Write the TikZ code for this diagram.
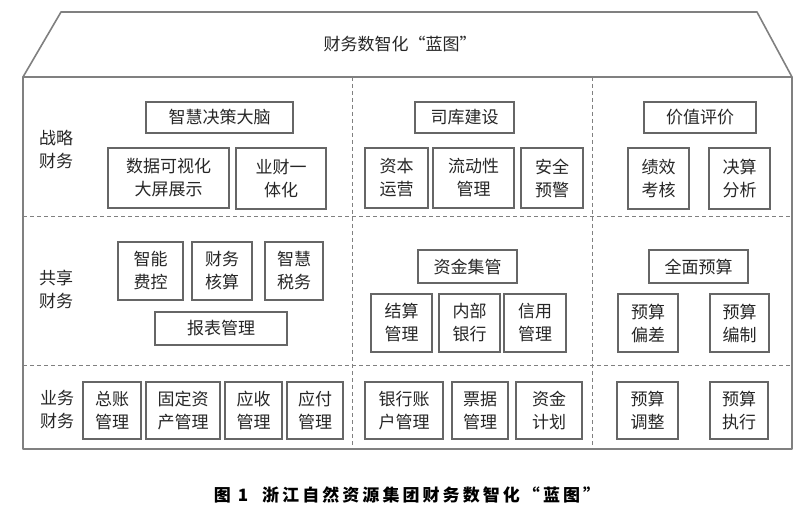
\documentclass[tikz,border=0pt]{standalone}
\usepackage{fontspec}
\setmainfont{Noto Sans CJK SC}
\newcommand\bx[6]{\node[box,minimum width={#4-#2},minimum height={#5-#3}] (#1) at ({(#2+#4)/2},{(#3+#5)/2}) {#6};}
\begin{document}
\begin{tikzpicture}[x=1pt,y=-1pt,
  box/.style={draw=black!60,line width=1.1pt,inner sep=0pt,align=center,text=black!85,font=\fontsize{17}{23}\selectfont},
  frame/.style={draw=black!50,line width=1.6pt,line join=round},
  divider/.style={draw=black!50,line width=1pt,dash pattern=on 4pt off 3pt},
  cat/.style={align=center,inner sep=0pt,text=black!85,font=\fontsize{17}{23}\selectfont}]
\useasboundingbox (0,0) rectangle (800,526);
\fill[white] (0,0) rectangle (800,526);
% roof and frame
\draw[frame] (23,77) -- (61,12) -- (757,12) -- (792,77);
\draw[frame] (23,77) rectangle (792,449);
\draw[divider] (352,77) -- (352,449);
\draw[divider] (592,77) -- (592,449);
\draw[divider] (23,217) -- (792,217);
\draw[divider] (23,365) -- (792,365);
\node[cat,font=\fontsize{17}{20}\selectfont] (title) at (400,44) {财务数智化“蓝图”};
% category labels
\node[cat] (c1) at (56,150) {战略\\财务};
\node[cat] (c2) at (56,289) {共享\\财务};
\node[cat] (c3) at (57,410) {业务\\财务};
% row 1
\bx{a1}{146}{102}{293}{133}{智慧决策大脑}
\bx{a2}{108}{148}{229}{208}{数据可视化\\大屏展示}
\bx{a3}{236}{148}{326}{209}{业财一\\体化}
\bx{b1}{415}{102}{514}{133}{司库建设}
\bx{b2}{365}{148}{428}{208}{资本\\运营}
\bx{b3}{433}{148}{514}{208}{流动性\\管理}
\bx{b4}{521}{148}{583}{208}{安全\\预警}
\bx{d1}{644}{102}{756}{133}{价值评价}
\bx{d2}{628}{148}{689}{209}{绩效\\考核}
\bx{d3}{709}{148}{770}{209}{决算\\分析}
% row 2
\bx{e1}{118}{242}{183}{300}{智能\\费控}
\bx{e2}{192}{242}{252}{300}{财务\\核算}
\bx{e3}{265}{242}{323}{300}{智慧\\税务}
\bx{e4}{155}{312}{287}{345}{报表管理}
\bx{f1}{418}{250}{517}{283}{资金集管}
\bx{f2}{371}{294}{432}{352}{结算\\管理}
\bx{f3}{439}{294}{500}{352}{内部\\银行}
\bx{f4}{504}{294}{566}{352}{信用\\管理}
\bx{g1}{649}{250}{748}{283}{全面预算}
\bx{g2}{618}{294}{678}{352}{预算\\偏差}
\bx{g3}{710}{294}{769}{352}{预算\\编制}
% row 3
\bx{h1}{83}{382}{141}{439}{总账\\管理}
\bx{h2}{146}{382}{220}{439}{固定资\\产管理}
\bx{h3}{225}{382}{282}{439}{应收\\管理}
\bx{h4}{287}{382}{343}{439}{应付\\管理}
\bx{i1}{365}{382}{443}{439}{银行账\\户管理}
\bx{i2}{452}{382}{508}{439}{票据\\管理}
\bx{i3}{516}{382}{582}{439}{资金\\计划}
\bx{j1}{617}{382}{678}{439}{预算\\调整}
\bx{j2}{710}{382}{768}{439}{预算\\执行}
% caption
\node[inner sep=0pt,font=\bfseries\fontsize{17}{20}\selectfont\addfontfeatures{LetterSpace=18}] (caption) at (407,495) {图 1\hspace{14pt}浙江自然资源集团财务数智化“蓝图”};
\end{tikzpicture}
\end{document}
